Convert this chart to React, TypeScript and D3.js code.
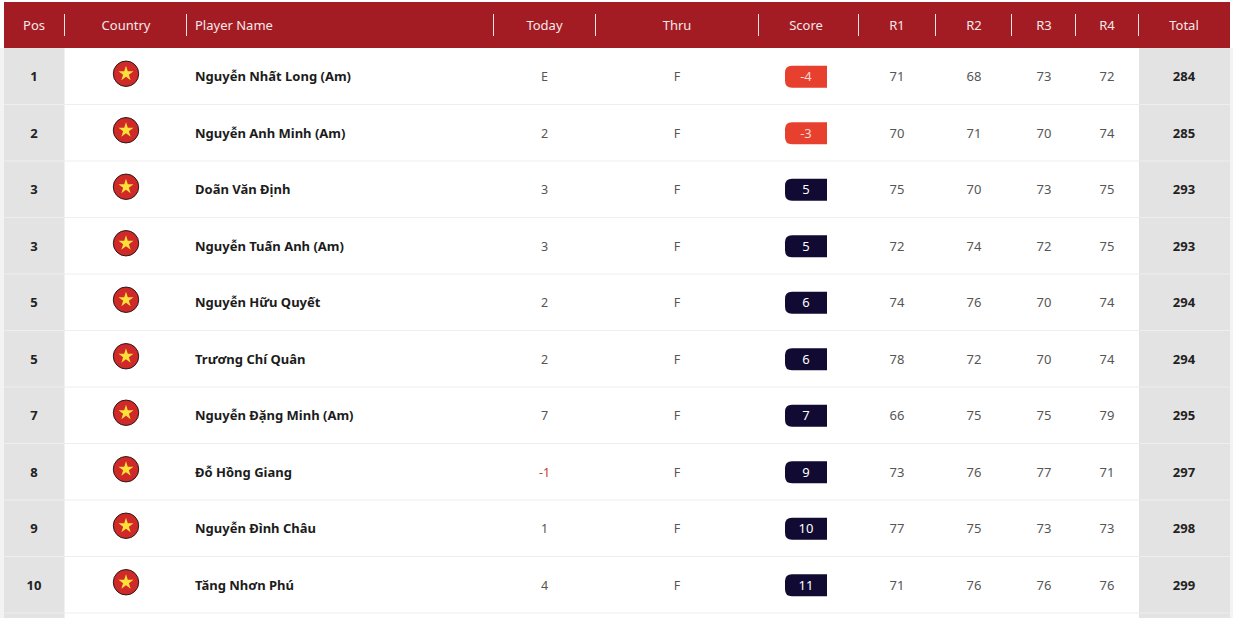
import React from 'react';
import * as d3 from 'd3';

const positions = ['1', '2', '3', '3', '5', '5', '7', '8', '9', '10'];
const players = [
    'Nguyễn Nhất Long (Am)',
    'Nguyễn Anh Minh (Am)',
    'Doãn Văn Định',
    'Nguyễn Tuấn Anh (Am)',
    'Nguyễn Hữu Quyết',
    'Trương Chí Quân',
    'Nguyễn Đặng Minh (Am)',
    'Đỗ Hồng Giang',
    'Nguyễn Đình Châu',
    'Tăng Nhơn Phú',
];
const today = ['E', '2', '3', '3', '2', '2', '7', '-1', '1', '4'];
const thru = ['F', 'F', 'F', 'F', 'F', 'F', 'F', 'F', 'F', 'F'];
const scores = [-4, -3, 5, 5, 6, 6, 7, 9, 10, 11];
const r1 = [71, 70, 75, 72, 74, 78, 66, 73, 77, 71];
const r2 = [68, 71, 70, 74, 76, 72, 75, 76, 75, 76];
const r3 = [73, 70, 73, 72, 70, 70, 75, 77, 73, 76];
const r4 = [72, 74, 75, 75, 74, 74, 79, 71, 73, 76];
const totals = [284, 285, 293, 293, 294, 294, 295, 297, 298, 299];
const headers = ['Pos', 'Country', 'Player Name', 'Today', 'Thru', 'Score', 'R1', 'R2', 'R3', 'R4', 'Total'];

const width = 1233;
const height = 618;
const font = '"Noto Sans", "Open Sans", sans-serif';

// column centres, and the white dividers in the header
const colX = d3.scaleOrdinal<string, number>()
    .domain(headers)
    .range([34, 126, 195, 544.5, 677, 806, 897, 974, 1044, 1107, 1184]);
const dividers = [64.5, 186.5, 493.5, 595.5, 758.5, 858.5, 935.5, 1011.5, 1075.5, 1138.5];

const rowY = d3.scaleBand<number>()
    .domain(d3.range(players.length))
    .range([48, 613])
    .paddingInner(0);

const starPath = d3.symbol().type(d3.symbolStar).size(70)() || '';

// rounded on the left only
const badgePath = (x: number, y: number, w: number, h: number, r: number) => {
    const p = d3.path();
    p.moveTo(x + w, y);
    p.lineTo(x + r, y);
    p.quadraticCurveTo(x, y, x, y + r);
    p.lineTo(x, y + h - r);
    p.quadraticCurveTo(x, y + h, x + r, y + h);
    p.lineTo(x + w, y + h);
    p.closePath();
    return p.toString();
};

const App: React.FC = () => {
    const band = rowY.bandwidth();
    return (
        <svg
            width={width}
            height={height}
            viewBox={`0 0 ${width} ${height}`}
            style={{ position: 'absolute', left: 0, top: 0, background: '#fff', fontFamily: font }}
        >
            {/* side edges of the table */}
            <rect x={0} y={48} width={4} height={height - 48} fill="#f3f3f3" />
            <rect x={1230} y={48} width={3} height={height - 48} fill="#f3f3f3" />

            {/* grey Pos and Total columns */}
            <rect x={4} y={48} width={60.5} height={height - 48} fill="#e3e3e3" />
            <rect x={1139} y={48} width={91} height={height - 48} fill="#e3e3e3" />

            {/* row lines */}
            {d3.range(players.length).map((i) => {
                const y = (rowY(i) as number) + band;
                return (
                    <g key={`line-${i}`}>
                        <line x1={4} x2={1230} y1={y} y2={y} stroke="#eeeeee" strokeWidth={1} />
                    </g>
                );
            })}

            {/* header */}
            <rect x={4} y={2} width={1226} height={46} fill="#a31c24" />
            {dividers.map((x) => (
                <line key={x} x1={x} x2={x} y1={14} y2={36} stroke="#f4e3e3" strokeWidth={1} />
            ))}
            {headers.map((h) => (
                <text
                    key={h}
                    x={colX(h)}
                    y={25}
                    dy="0.35em"
                    textAnchor={h === 'Player Name' ? 'start' : 'middle'}
                    fontSize={13}
                    fill="#f6e9e9"
                >
                    {h}
                </text>
            ))}

            {/* rows */}
            {players.map((name, i) => {
                const cy = (rowY(i) as number) + band / 2 + 0.5;
                const negative = scores[i] < 0;
                return (
                    <g key={`row-${i}`}>
                        <text x={colX('Pos')} y={cy} dy="0.35em" textAnchor="middle" fontSize={13} fontWeight={700} fill="#222">
                            {positions[i]}
                        </text>

                        <g transform={`translate(${colX('Country')},${cy - 3})`}>
                            <circle r={12.7} fill="#cf2a27" stroke="#2a1a1a" strokeWidth={1} />
                            <path d={starPath} fill="#fde03a" />
                        </g>

                        <text x={colX('Player Name')} y={cy} dy="0.35em" fontSize={13} fontWeight={700} fill="#1c1c1c">
                            {name}
                        </text>

                        <text x={colX('Today')} y={cy} dy="0.35em" textAnchor="middle" fontSize={12.5} fill={today[i].startsWith('-') ? '#c9402f' : '#555'}>
                            {today[i]}
                        </text>
                        <text x={colX('Thru')} y={cy} dy="0.35em" textAnchor="middle" fontSize={12.5} fill="#555">
                            {thru[i]}
                        </text>

                        <path d={badgePath(785, cy - 11, 42, 22, 7)} fill={negative ? '#e8402f' : '#110a33'} />
                        <text x={colX('Score')} y={cy} dy="0.35em" textAnchor="middle" fontSize={13} fill={negative ? '#fbd9d2' : '#fff'}>
                            {scores[i]}
                        </text>

                        {[['R1', r1], ['R2', r2], ['R3', r3], ['R4', r4]].map(([label, values]) => (
                            <text key={label as string} x={colX(label as string)} y={cy} dy="0.35em" textAnchor="middle" fontSize={13} fill="#555">
                                {(values as number[])[i]}
                            </text>
                        ))}

                        <text x={colX('Total')} y={cy} dy="0.35em" textAnchor="middle" fontSize={13} fontWeight={700} fill="#222">
                            {totals[i]}
                        </text>
                    </g>
                );
            })}
        </svg>
    );
};

export default App;
